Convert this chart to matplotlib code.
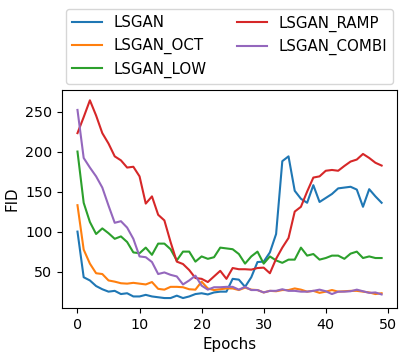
#!/usr/bin/env python3

import numpy as np
import matplotlib
matplotlib.use("Agg")
import matplotlib.pyplot as plt

epochs = np.arange(50)

lsgan = [100, 43, 39, 32, 28, 25, 26, 22, 23, 19,
         19, 21, 19, 18, 17, 17, 20, 17, 19, 22,
         23, 21.5, 24, 25, 25, 41, 40, 31, 43, 62,
         62.5, 74, 97, 188, 194, 151, 141, 136, 158, 137,
         142, 147, 154, 155, 156, 152.5, 131, 153, 144, 136]
lsgan_oct = [133, 77.5, 60, 48, 47, 39, 37.5, 35.5, 35, 36,
             35, 34, 37, 28.5, 27.5, 31, 31, 30.5, 28, 27.5,
             37.5, 29, 27, 28, 29, 29, 27, 30, 27.5, 27,
             24, 26, 25.5, 27, 27, 29, 27.5, 25, 26, 23.5,
             25, 27, 25, 25.5, 26, 26, 25, 24, 22, 23]
lsgan_low = [200, 136, 112, 97, 104, 98, 91, 94, 87, 74,
             73, 80, 71, 85, 85, 78, 64, 75, 75, 62.5,
             69, 66, 68, 80, 79, 78, 72, 60, 69, 75,
             60, 69, 64, 61, 65, 65, 80, 70, 72, 65,
             67, 70, 70, 66, 72.5, 75, 67, 69, 67, 67]
lsgan_ramp = [223, 243, 264, 245, 223, 210, 194, 189, 180, 181,
              169, 135, 144, 121, 114, 87, 62.5, 59.5, 52, 42,
              41, 37, 44, 51, 41, 54.5, 53, 53, 52.5, 54.5,
              55, 48, 66, 80, 92, 125, 131, 150, 167.5, 169,
              176, 177, 176, 182, 187.5, 190, 197, 192, 186, 182.5]
lsgan_combi = [252, 192, 180, 169, 155, 132.5, 111, 113, 105, 91,
               69, 68, 62, 47, 49, 46, 44, 34, 39, 45,
               32.5, 27.5, 30.5, 30.5, 31, 31, 27.5, 31, 27, 27,
               24, 26, 26, 28, 26, 26, 25, 25, 26, 27.5,
               25.5, 22, 25, 25, 25.5, 27.5, 25.5, 23.5, 24, 21.5]

series = [
    ("LSGAN", lsgan),
    ("LSGAN_OCT", lsgan_oct),
    ("LSGAN_LOW", lsgan_low),
    ("LSGAN_RAMP", lsgan_ramp),
    ("LSGAN_COMBI", lsgan_combi),
]

plt.rcParams["font.size"] = 10.8
plt.rcParams["xtick.labelsize"] = 10.3
plt.rcParams["ytick.labelsize"] = 10.3

fig = plt.figure(figsize=(4.07, 3.56), dpi=100)
ax = fig.add_axes([0.153, 0.135, 0.822, 0.611])

for name, values in series:
    ax.plot(epochs, values, label=name)

ax.set_xlabel("Epochs")
ax.set_ylabel("FID")
ax.legend(loc="lower center", bbox_to_anchor=(0.5, 1.03), ncol=2,
          fontsize=10.8, borderaxespad=0)

fig.savefig("out.png", dpi=100)
